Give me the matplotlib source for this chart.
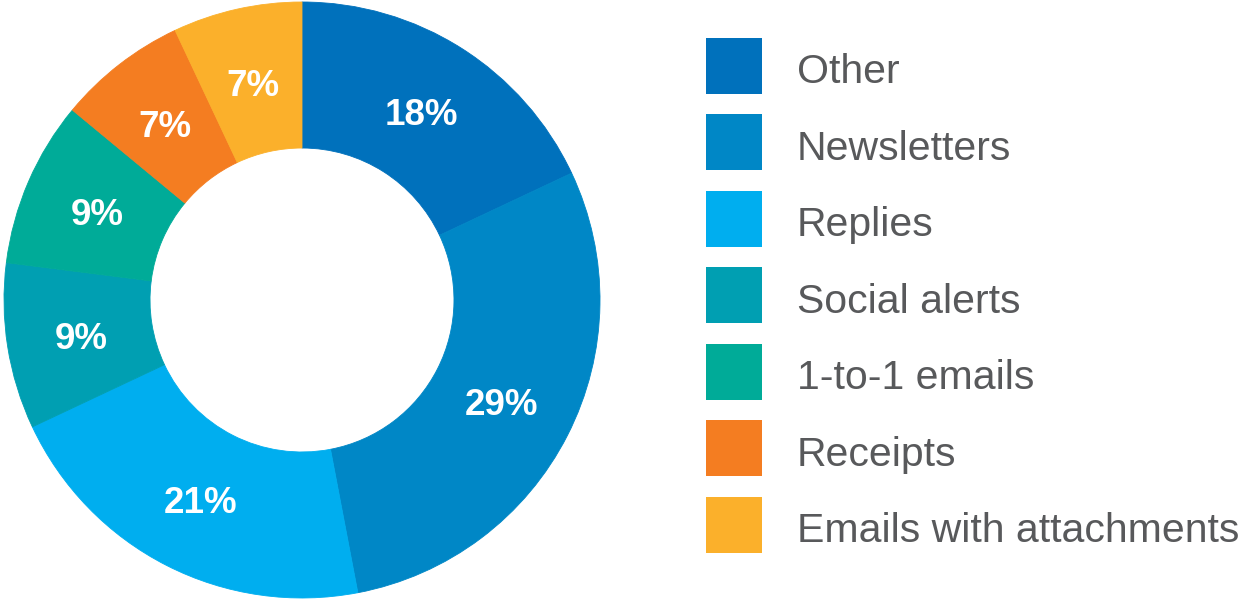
import matplotlib
matplotlib.use('Agg')
import matplotlib.pyplot as plt
import matplotlib.transforms as mtransforms
from matplotlib.patches import Patch

plt.rcParams['font.family'] = ['Liberation Sans', 'DejaVu Sans']

categories = ['Other', 'Newsletters', 'Replies', 'Social alerts',
              '1-to-1 emails', 'Receipts', 'Emails with attachments']
shares = [18, 29, 21, 9, 9, 7, 7]
colors = ['#0071BC', '#0087C6', '#00AEEF', '#009FB2',
          '#00AB98', '#F47D21', '#FBB02B']

fig = plt.figure(figsize=(12.48, 6.02), dpi=100)
W, H = 1248, 602

# donut: centre ~ (302, 300), radius ~ 298 px
ax = fig.add_axes([4 / W, (H - 598) / H, 596 / W, 596 / H])
wedges, texts, autotexts = ax.pie(
    shares, colors=colors, startangle=90, counterclock=False,
    radius=1, pctdistance=0.75,
    autopct=lambda p: '%d%%' % round(p),
    wedgeprops=dict(width=0.49, linewidth=0.6, edgecolor='none'),
    textprops=dict(color='white', fontsize=26.5, fontweight='bold'))
for w, c in zip(wedges, colors):
    w.set_edgecolor(c)
for t in autotexts:
    x, y = t.get_position()
    t.set_position((x, y - 0.014))
ax.set_xlim(-1, 1)
ax.set_ylim(-1, 1)
ax.set_aspect('equal')
ax.axis('off')

# legend: squares ~56 px, rows every ~76.7 px
fs = 29.5
box_pt = 56 * 72 / 100
hh = (box_pt / fs - 0.245) / 0.65
handles = [Patch(facecolor=c, edgecolor='none') for c in colors]
leg = fig.legend(handles, categories, loc='upper left',
                 bbox_to_anchor=(706 / W, 1 - 38 / H),
                 frameon=False, fontsize=fs, borderpad=0, borderaxespad=0,
                 handlelength=box_pt / fs, handleheight=hh,
                 handletextpad=0.85, labelspacing=0.5, labelcolor='#58595B')
# nudge the labels down a little so they sit centred on the squares
nudge = mtransforms.Affine2D().translate(0, -4)
for t in leg.get_texts():
    t.set_transform(t.get_transform() + nudge)

fig.savefig('out.png', dpi=100)
